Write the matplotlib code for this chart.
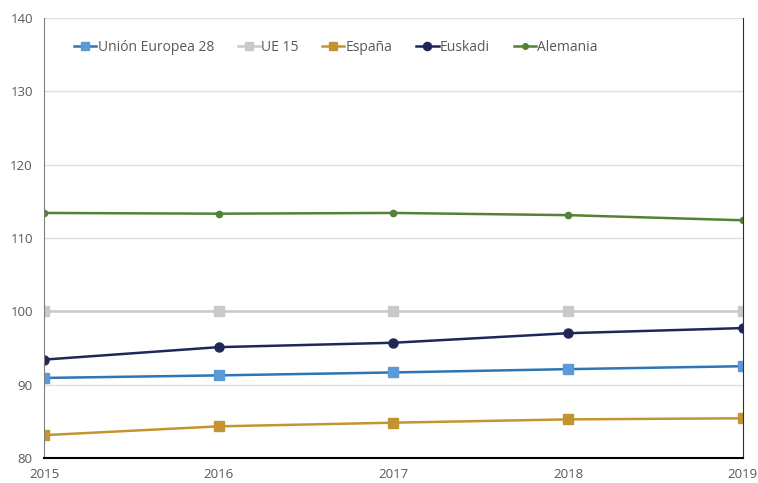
import matplotlib.pyplot as plt

years = [2015, 2016, 2017, 2018, 2019]
ue28 = [90.9, 91.25, 91.65, 92.1, 92.5]
ue15 = [100, 100, 100, 100, 100]
espana = [83.1, 84.3, 84.8, 85.25, 85.4]
euskadi = [93.4, 95.1, 95.7, 97.0, 97.7]
alemania = [113.4, 113.3, 113.4, 113.1, 112.4]

plt.rcParams['font.family'] = ['Open Sans', 'DejaVu Sans']

fig = plt.figure(figsize=(7.58, 4.83), dpi=100)
ax = fig.add_axes([0.058, 0.052, 0.922, 0.911])

ax.plot(years, ue28, color='#2E75B6', lw=1.8, marker='s', ms=6.5, mfc='#5B9BD5', mec='#5B9BD5', label='Unión Europea 28')
ax.plot(years, ue15, color='#C9C9C9', lw=1.8, marker='s', ms=6.5, label='UE 15')
ax.plot(years, espana, color='#C39530', lw=1.8, marker='s', ms=6.5, label='España')
ax.plot(years, euskadi, color='#1F2758', lw=1.8, marker='o', ms=6.5, label='Euskadi')
ax.plot(years, alemania, color='#548235', lw=1.8, marker='o', ms=4.5, label='Alemania')

ax.set_xlim(2015, 2019)
ax.set_ylim(80, 140)
ax.set_xticks(years)
ax.set_yticks(range(80, 141, 10))
ax.grid(axis='y', color='#E0E0E0', lw=1)
ax.set_axisbelow(True)

ax.spines['top'].set_visible(False)
ax.spines['left'].set_color('#808080')
ax.spines['right'].set_color('#303030')
ax.spines['bottom'].set_color('black')
ax.spines['bottom'].set_linewidth(1.5)

ax.tick_params(length=0, labelsize=9.5, colors='#595959')
ax.tick_params(axis='x', pad=7)
ax.tick_params(axis='y', pad=8)

ax.legend(loc='upper left', bbox_to_anchor=(0.025, 0.978), ncol=5, frameon=False,
          fontsize=10, labelcolor='#595959', handlelength=1.6, handletextpad=0.1,
          columnspacing=1.7, markerscale=0.9)

fig.savefig('out.png')
